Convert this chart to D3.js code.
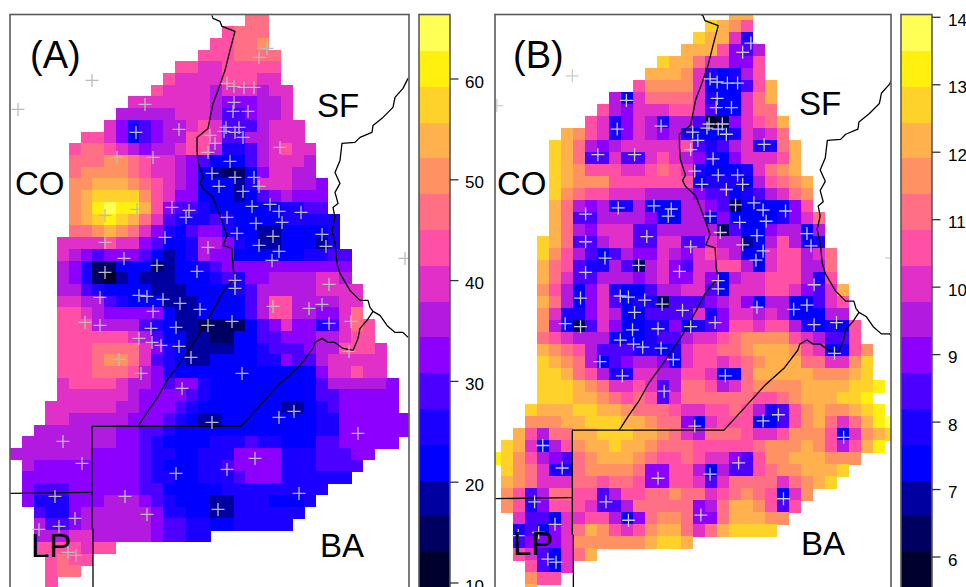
<!DOCTYPE html>
<html lang="en">
<head>
<meta charset="UTF-8">
<title>Panels A and B</title>
<style>
  html, body { margin: 0; padding: 0; background: #fff; overflow: hidden; }
  svg { display: block; }
  text { font-family: "Liberation Sans", Arial, sans-serif; fill: #000; }
  .cell { shape-rendering: crispEdges; }
  .frame { fill: none; stroke: #5a5a5a; stroke-width: 1.6; }
  .border { fill: none; stroke: #000; stroke-width: 1.3; stroke-linejoin: round; }
  .station { fill: none; stroke-width: 1.3; }
</style>
</head>
<body>
<svg></svg>
<script src="https://d3js.org/d3.v7.min.js"></script>
<script>
// colour level of each grid cell, hex digit per column, dot = no data
const gridA = [
  "....................aa",
  "..................9aaa",
  ".................99aab",
  "................999aaaa",
  "..............998899999",
  ".............9888899988",
  "............988887888788",
  "..........88888887666778",
  ".........777778887556778",
  "........86456778985557888",
  "......9986356779985577888",
  ".....9aa987677899744578988",
  ".....aaabba988765333578887",
  ".....abbbba988763211368877",
  ".....bbcccba987633324888776",
  ".....bcddddb986633323567666",
  ".....bcefeec965543333334455",
  ".....bcdedca8544454333344444",
  ".....aabcba86435664332233334",
  "....888898865334776432233324",
  "....8765666532347663333334455",
  "....7641133312334566666666666",
  "....7641023222333454667777887",
  "....77543333222333345777778888",
  "....88775433322233335799777788",
  "....9987666663223333579977668a",
  "....9997777543221111356866458a9",
  "....999999875332211335566677899",
  "....999aaaa864322223345556779998",
  "....999abba854322333344655788888",
  "....999aaa9764333333333333688988",
  "....89999877656643333333335777776",
  "....88888876666543333333335566666",
  "...888888776665433333332234566666",
  "...8877777666543223333333344666666",
  "..77777776655433333333333344666666",
  ".77777777665433334445443335566666",
  "7777777666654433444666644455566",
  ".76666666665433344566664445555",
  ".6666666666544334445666444444",
  ".65556666665533333444444444",
  ".6444666777654333224443334",
  "..54467777776443322444444",
  "..7556777777655443344444",
  "..777887777765544",
  "..9999899",
  "...9a99",
  "...9aa",
  "...9"
];
const gridB = [
  "....................cc",
  "..................dcb9",
  ".................dcc84",
  "................ccc9657",
  "..............dcca88669",
  ".............cccb843479",
  "............9bbbb833359c",
  "..........738aaaa84338ac",
  ".........9768889985338aa",
  "........984687477501689ac",
  "......cb9846876743334878a",
  ".....dca7678888895457844ac",
  ".....dca55855898764368889c",
  ".....dcb999889a98433348abc",
  ".....dcbbb99999993444379abc",
  ".....dba99888777765534578ab",
  ".....ca76744733377651333369",
  ".....ca55777763377363333468a",
  ".....ca768885577777153367737",
  "....dca557885588558772379734",
  "....db9753576687689873389978a",
  "....ca9544751786588997389977a",
  "....ca85577767866863788999749",
  "....b973684335778853888998658c",
  "....ca736853441555678637733589",
  "....b8446873355558468878733377",
  "....b73158633446345699899743439",
  "....a987773334557889abbbb987559",
  "....cba975554434899aabcccb98349b",
  "....dcba7356776389989abcccaa88bd",
  "....ddca9744887799833acccccbbbcd",
  "....dddcba889857aa978abbbbccccdde",
  "....dddccba9a958aaaaaa99abcccdde",
  "...dcccddccbaaa98899a97459bcbbcde",
  "...bbbccdddccbaa6389993359bca8acef",
  "..c97aaccdddccba87aaa9889bbb938bcd",
  ".dc8379bccdccbaaa99999abbbcb979ce",
  "edb9765abcccba99a988659bbcccbbb",
  ".dba844abbbba6699737559abbcccd",
  ".cba888aa9aa96699858aaaa8abcd",
  ".b957aa995799aabaa89aba938b",
  ".b9469998557aaaaa67accb959",
  "..85538899736abba66acccbb",
  "..45368acb989bcca8acdddd",
  "..56668bbbbbbcddc",
  "..98538ac",
  "...9538",
  "...b99",
  "...c"
];

// station positions, map units
const stations = [
  [82,66],[8,95],[135,90],[126,118],[169,115],[200,121],[205,129],[198,138],[217,69],[224,72],
  [234,73],[244,73],[224,88],[223,97],[238,97],[216,113],[214,117],[225,118],[229,113],[233,123],
  [257,34],[249,43],[270,133],[107,143],[143,143],[220,147],[202,159],[225,163],[244,163],[209,172],
  [249,172],[233,177],[162,193],[179,196],[176,203],[127,195],[95,201],[217,203],[242,192],[260,190],
  [269,197],[291,198],[246,209],[272,208],[155,223],[227,219],[263,222],[312,220],[95,228],[198,233],
  [249,231],[269,237],[316,232],[262,246],[395,244],[114,244],[147,251],[187,257],[95,258],[225,266],
  [225,274],[319,270],[90,283],[129,281],[137,282],[153,285],[170,289],[190,295],[143,297],[263,292],
  [299,294],[312,290],[222,307],[75,308],[90,311],[198,311],[166,313],[141,314],[319,309],[341,307],
  [129,324],[142,328],[151,331],[169,332],[339,337],[109,345],[181,343],[131,359],[232,359],[172,374],
  [284,397],[269,403],[202,408],[348,419],[53,427],[245,444],[72,449],[217,455],[166,459],[45,482],
  [115,482],[289,479],[208,495],[137,500],[65,504],[49,512],[29,515],[58,538],[66,541]
];

// province and river borders, map units
const borderLines = [
  [[202,1],[203,4],[210,7],[212,12],[225,17],[220,36],[215,56],[208,76],[203,89],[198,114],[187,123],[187,136],[188,148],[193,163],[190,168],[193,174],[203,183],[208,196],[213,209],[217,221],[213,231],[222,234],[223,253],[225,264],[218,271],[212,279],[203,296],[190,319],[173,344],[157,366],[147,384],[137,398],[128,412]],
  [[398,64],[393,74],[385,83],[383,93],[373,103],[363,111],[362,118],[350,123],[345,128],[332,129],[330,146],[325,158],[330,169],[325,178],[328,189],[323,193],[325,203],[322,216],[325,229],[327,249],[330,259],[340,276],[350,286],[358,286],[360,293],[363,297],[370,301],[377,311],[385,318],[393,318],[398,323]],
  [[82,514],[82,412],[230.7,412],[250,391],[270,369],[290,351],[303,334],[305,328],[312,324],[318,328],[325,328],[333,334],[343,336],[348,324],[350,314],[357,306],[363,297]],
  [[0,479],[82,478]],
  [[83,514],[83,580]]
];

const levelColors = ["#00002c","#000060","#0000a0","#0000ff","#1c00ff","#4c00ff","#8c00ff","#b31ae0",
  "#e030c8","#ff50a5","#ff7084","#ff9262","#ffb14e","#ffd22b","#fff010","#ffff55"];

const ticksA = [10, 20, 30, 40, 50, 60];
const ticksB = [6, 7, 8, 9, 10, 11, 12, 13, 14];

const mapWidth = 400, mapHeight = 574.3;
const nCols = 34, nRows = 49;

const svg = d3.select("svg").attr("width", 966).attr("height", 587);
const levelColor = d3.scaleOrdinal(d3.range(16), levelColors);

const panels = [
  { id: "A", grid: gridA, xRange: [10, 410], yRange: [14.4, 588.7], plus: "#bcbcbc",
    clip: [10, 14.5, 399, 580], tag: "(A)", tagX: 30, tagY: 68,
    names: [["CO",15,195],["SF",317,117],["LP",31,557],["BA",320,557]],
    bar: { x0: 419, x1: 450, ticks: ticksA, domain: [9.55, 66.4], tickAt: [[60,79],[10,583]], labelX: 465 } },
  { id: "B", grid: gridB, xRange: [488.7, 896.7], yRange: [8.3, 596.3], plus: "#cdcdcd",
    clip: [495, 14.5, 396, 580], tag: "(B)", tagX: 513, tagY: 68,
    names: [["CO",497,195],["SF",799,115],["LP",513,555],["BA",801,555]],
    bar: { x0: 901, x1: 932, ticks: ticksB, domain: [5.55, 14.04], tickAt: [[14,17.3],[6,557]], labelX: 948 } }
];

panels.forEach(p => {
  const x = d3.scaleLinear().domain([0, mapWidth]).range(p.xRange);
  const y = d3.scaleLinear().domain([0, mapHeight]).range(p.yRange);
  const col = d3.scaleBand().domain(d3.range(nCols)).range(p.xRange);
  const row = d3.scaleBand().domain(d3.range(nRows)).range(p.yRange);

  svg.append("clipPath").attr("id", "clip" + p.id).append("rect")
    .attr("x", p.clip[0]).attr("y", p.clip[1]).attr("width", p.clip[2]).attr("height", p.clip[3]);

  const g = svg.append("g").attr("clip-path", `url(#clip${p.id})`);

  const cells = [];
  p.grid.forEach((line, r) => {
    line.split("").forEach((ch, c) => {
      if (ch !== ".") cells.push({ r, c, level: parseInt(ch, 16) });
    });
  });

  g.selectAll("rect.cell").data(cells).enter().append("rect")
    .attr("class", "cell")
    .attr("x", d => col(d.c))
    .attr("y", d => row(d.r))
    .attr("width", col.bandwidth() + 0.5)
    .attr("height", row.bandwidth() + 0.5)
    .attr("fill", d => levelColor(d.level));

  const line = d3.line().x(d => x(d[0])).y(d => y(d[1]));
  g.selectAll("path.border").data(borderLines).enter().append("path")
    .attr("class", "border")
    .attr("d", line);

  g.selectAll("path.station").data(stations).enter().append("path")
    .attr("class", "station")
    .attr("stroke", p.plus)
    .attr("d", d => {
      const sx = x(d[0]), sy = y(d[1]);
      return `M${sx - 6.5},${sy}H${sx + 6.5}M${sx},${sy - 6.5}V${sy + 6.5}`;
    });

  // panel frame, the bottom side is cut off by the picture
  svg.append("rect").attr("class", "frame")
    .attr("x", p.clip[0]).attr("y", p.clip[1]).attr("width", p.clip[2]).attr("height", p.clip[3]);

  svg.append("text").attr("x", p.tagX).attr("y", p.tagY).attr("font-size", 38).text(p.tag);
  p.names.forEach(n => {
    svg.append("text").attr("x", n[1]).attr("y", n[2]).attr("font-size", 33).text(n[0]);
  });

  // colour bar
  const b = p.bar;
  const barY = d3.scaleLinear().domain(b.domain).range([587.5, 14.7]);
  const tickY = d3.scaleLinear().domain([b.tickAt[0][0], b.tickAt[1][0]]).range([b.tickAt[0][1], b.tickAt[1][1]]);
  const step = (b.domain[1] - b.domain[0]) / 16;
  svg.append("g").selectAll("rect").data(d3.range(16)).enter().append("rect")
    .attr("class", "cell")
    .attr("x", b.x0)
    .attr("width", b.x1 - b.x0)
    .attr("y", i => barY(b.domain[0] + (i + 1) * step))
    .attr("height", barY(b.domain[0]) - barY(b.domain[0] + step) + 0.5)
    .attr("fill", i => levelColor(i));
  svg.append("rect").attr("class", "frame")
    .attr("x", b.x0).attr("y", 14.5).attr("width", b.x1 - b.x0).attr("height", 580);

  b.ticks.forEach(t => {
    svg.append("line")
      .attr("x1", b.x1).attr("x2", b.x1 + 8.5)
      .attr("y1", tickY(t)).attr("y2", tickY(t))
      .attr("stroke", "#333").attr("stroke-width", 1.3);
    svg.append("text").attr("x", b.labelX).attr("y", tickY(t) + 8.5)
      .attr("font-size", 17).text(t);
  });
});
</script>
</body>
</html>
